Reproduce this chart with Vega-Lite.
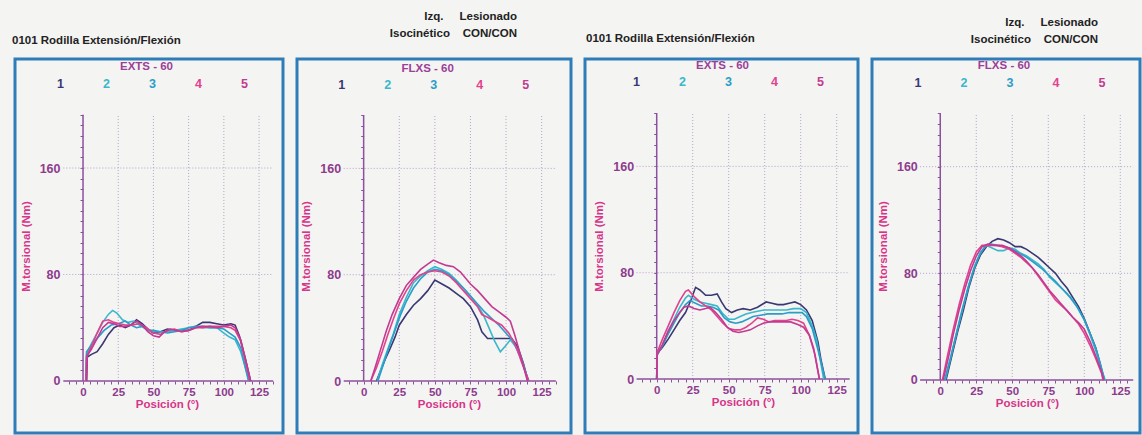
{
"$schema": "https://vega.github.io/schema/vega-lite/v6.json",
"background": "#f4f4f2",
"padding": {"left": 10, "top": 9, "right": 0, "bottom": 0},
"autosize": {"type": "pad"},
"bounds": "flush",
"spacing": 14,
"resolve": {"scale": {"x": "independent", "y": "independent", "color": "shared"}, "legend": {"color": "independent"}},
"config": {
 "view": {"stroke": "#2f7db8", "strokeWidth": 3},
 "axis": {"domain": false, "grid": false, "tickColor": "#8c509e", "tickWidth": 1, "labelFont": "Liberation Sans", "labelFontWeight": "bold", "labelColor": "#8e3b8e", "titleFont": "Liberation Sans", "titleFontSize": 11.5, "titleFontWeight": "bold", "titleColor": "#d6358a", "labelOverlap": false, "labelFlush": false, "labelBound": false},
 "axisX": {"labelFontSize": 11.5},
 "axisY": {"labelFontSize": 12.5},
 "legend": {"direction": "horizontal", "columns": 5, "columnPadding": 26, "symbolType": "circle", "symbolSize": 0, "symbolOpacity": 0, "symbolStrokeWidth": 0, "labelOffset": 0, "labelFont": "Liberation Sans", "labelFontSize": 12.5, "labelFontWeight": "bold", "titleFont": "Liberation Sans", "titleFontSize": 11.5, "titleFontWeight": "bold", "titleColor": "#9b3f98", "titleOrient": "top", "titleAnchor": "middle", "titlePadding": 5, "padding": 0},
 "title": {"font": "Liberation Sans", "fontSize": 11.5, "fontWeight": "bold", "color": "#222222", "lineHeight": 17, "frame": "bounds"}
},
"datasets": {
 "vgrid": [{"x": 25}, {"x": 50}, {"x": 75}, {"x": 100}, {"x": 125}],
 "hgrid": [{"v": 80}, {"v": 160}],
 "p1": [
  {"s":"1","x":2.5,"v":0},{"s":"1","x":3,"v":18},{"s":"1","x":6,"v":20},{"s":"1","x":10,"v":22},{"s":"1","x":14,"v":28},{"s":"1","x":18,"v":35},{"s":"1","x":22,"v":40},{"s":"1","x":26,"v":42},{"s":"1","x":30,"v":40},{"s":"1","x":34,"v":42},{"s":"1","x":38,"v":46},{"s":"1","x":42,"v":43},{"s":"1","x":46,"v":39},{"s":"1","x":50,"v":36},{"s":"1","x":55,"v":37},{"s":"1","x":60,"v":39},{"s":"1","x":65,"v":38},{"s":"1","x":70,"v":38},{"s":"1","x":75,"v":38},{"s":"1","x":80,"v":41},{"s":"1","x":85,"v":44},{"s":"1","x":90,"v":44},{"s":"1","x":95,"v":43},{"s":"1","x":100,"v":42},{"s":"1","x":105,"v":43},{"s":"1","x":108,"v":42},{"s":"1","x":111,"v":34},{"s":"1","x":115,"v":18},{"s":"1","x":119,"v":0},
  {"s":"2","x":2,"v":0},{"s":"2","x":2.5,"v":20},{"s":"2","x":6,"v":28},{"s":"2","x":10,"v":36},{"s":"2","x":14,"v":44},{"s":"2","x":18,"v":50},{"s":"2","x":21,"v":53},{"s":"2","x":24,"v":51},{"s":"2","x":28,"v":46},{"s":"2","x":32,"v":44},{"s":"2","x":36,"v":45},{"s":"2","x":40,"v":42},{"s":"2","x":45,"v":39},{"s":"2","x":50,"v":37},{"s":"2","x":55,"v":37},{"s":"2","x":60,"v":37},{"s":"2","x":65,"v":38},{"s":"2","x":70,"v":39},{"s":"2","x":75,"v":40},{"s":"2","x":80,"v":41},{"s":"2","x":85,"v":40},{"s":"2","x":90,"v":40},{"s":"2","x":95,"v":40},{"s":"2","x":100,"v":36},{"s":"2","x":104,"v":33},{"s":"2","x":108,"v":31},{"s":"2","x":112,"v":22},{"s":"2","x":118,"v":0},
  {"s":"3","x":2,"v":0},{"s":"3","x":2.5,"v":22},{"s":"3","x":6,"v":27},{"s":"3","x":10,"v":32},{"s":"3","x":15,"v":38},{"s":"3","x":20,"v":42},{"s":"3","x":25,"v":43},{"s":"3","x":30,"v":45},{"s":"3","x":34,"v":42},{"s":"3","x":38,"v":40},{"s":"3","x":42,"v":41},{"s":"3","x":46,"v":38},{"s":"3","x":50,"v":38},{"s":"3","x":55,"v":37},{"s":"3","x":60,"v":36},{"s":"3","x":65,"v":37},{"s":"3","x":70,"v":38},{"s":"3","x":75,"v":40},{"s":"3","x":80,"v":41},{"s":"3","x":85,"v":41},{"s":"3","x":90,"v":40},{"s":"3","x":95,"v":40},{"s":"3","x":100,"v":39},{"s":"3","x":104,"v":36},{"s":"3","x":108,"v":33},{"s":"3","x":112,"v":25},{"s":"3","x":117.5,"v":0},
  {"s":"4","x":2,"v":0},{"s":"4","x":2.5,"v":18},{"s":"4","x":6,"v":26},{"s":"4","x":10,"v":36},{"s":"4","x":14,"v":45},{"s":"4","x":18,"v":46},{"s":"4","x":22,"v":44},{"s":"4","x":26,"v":43},{"s":"4","x":30,"v":42},{"s":"4","x":35,"v":42},{"s":"4","x":40,"v":43},{"s":"4","x":45,"v":40},{"s":"4","x":50,"v":36},{"s":"4","x":55,"v":35},{"s":"4","x":60,"v":38},{"s":"4","x":65,"v":39},{"s":"4","x":70,"v":37},{"s":"4","x":75,"v":38},{"s":"4","x":80,"v":40},{"s":"4","x":85,"v":40},{"s":"4","x":90,"v":41},{"s":"4","x":95,"v":41},{"s":"4","x":100,"v":41},{"s":"4","x":105,"v":40},{"s":"4","x":108,"v":38},{"s":"4","x":112,"v":30},{"s":"4","x":118.5,"v":0},
  {"s":"5","x":2.5,"v":0},{"s":"5","x":3,"v":19},{"s":"5","x":6,"v":24},{"s":"5","x":10,"v":32},{"s":"5","x":14,"v":40},{"s":"5","x":18,"v":44},{"s":"5","x":22,"v":43},{"s":"5","x":26,"v":41},{"s":"5","x":30,"v":41},{"s":"5","x":34,"v":42},{"s":"5","x":38,"v":45},{"s":"5","x":42,"v":42},{"s":"5","x":46,"v":37},{"s":"5","x":50,"v":34},{"s":"5","x":54,"v":33},{"s":"5","x":58,"v":37},{"s":"5","x":62,"v":39},{"s":"5","x":66,"v":38},{"s":"5","x":70,"v":37},{"s":"5","x":75,"v":38},{"s":"5","x":80,"v":40},{"s":"5","x":85,"v":41},{"s":"5","x":90,"v":41},{"s":"5","x":95,"v":40},{"s":"5","x":100,"v":41},{"s":"5","x":105,"v":42},{"s":"5","x":108,"v":40},{"s":"5","x":112,"v":31},{"s":"5","x":119,"v":0}
 ],
 "p2": [
  {"s":"1","x":9,"v":0},{"s":"1","x":12,"v":8},{"s":"1","x":15,"v":16},{"s":"1","x":18,"v":23},{"s":"1","x":22,"v":33},{"s":"1","x":25,"v":42},{"s":"1","x":30,"v":50},{"s":"1","x":35,"v":57},{"s":"1","x":40,"v":62},{"s":"1","x":45,"v":68},{"s":"1","x":50,"v":76},{"s":"1","x":55,"v":73},{"s":"1","x":60,"v":70},{"s":"1","x":65,"v":66},{"s":"1","x":70,"v":62},{"s":"1","x":75,"v":56},{"s":"1","x":80,"v":46},{"s":"1","x":83,"v":37},{"s":"1","x":87,"v":32},{"s":"1","x":95,"v":32},{"s":"1","x":104,"v":32},{"s":"1","x":108,"v":26},{"s":"1","x":112,"v":14},{"s":"1","x":115.5,"v":0},
  {"s":"2","x":9.5,"v":0},{"s":"2","x":13,"v":12},{"s":"2","x":17,"v":24},{"s":"2","x":21,"v":36},{"s":"2","x":25,"v":50},{"s":"2","x":30,"v":63},{"s":"2","x":35,"v":74},{"s":"2","x":40,"v":79},{"s":"2","x":45,"v":83},{"s":"2","x":50,"v":86},{"s":"2","x":55,"v":84},{"s":"2","x":60,"v":81},{"s":"2","x":65,"v":76},{"s":"2","x":70,"v":70},{"s":"2","x":75,"v":64},{"s":"2","x":80,"v":57},{"s":"2","x":84,"v":50},{"s":"2","x":88,"v":40},{"s":"2","x":92,"v":30},{"s":"2","x":96,"v":22},{"s":"2","x":100,"v":27},{"s":"2","x":103,"v":31},{"s":"2","x":106,"v":27},{"s":"2","x":110,"v":20},{"s":"2","x":115.5,"v":0},
  {"s":"3","x":10,"v":0},{"s":"3","x":14,"v":13},{"s":"3","x":18,"v":26},{"s":"3","x":22,"v":38},{"s":"3","x":26,"v":50},{"s":"3","x":30,"v":60},{"s":"3","x":35,"v":70},{"s":"3","x":40,"v":77},{"s":"3","x":45,"v":82},{"s":"3","x":50,"v":84},{"s":"3","x":55,"v":83},{"s":"3","x":60,"v":80},{"s":"3","x":65,"v":75},{"s":"3","x":70,"v":70},{"s":"3","x":75,"v":64},{"s":"3","x":80,"v":58},{"s":"3","x":85,"v":52},{"s":"3","x":90,"v":47},{"s":"3","x":95,"v":42},{"s":"3","x":100,"v":36},{"s":"3","x":105,"v":30},{"s":"3","x":110,"v":18},{"s":"3","x":116,"v":0},
  {"s":"4","x":5,"v":0},{"s":"4","x":9,"v":10},{"s":"4","x":13,"v":22},{"s":"4","x":17,"v":35},{"s":"4","x":21,"v":47},{"s":"4","x":25,"v":58},{"s":"4","x":30,"v":68},{"s":"4","x":35,"v":76},{"s":"4","x":40,"v":80},{"s":"4","x":45,"v":82},{"s":"4","x":50,"v":83},{"s":"4","x":55,"v":82},{"s":"4","x":60,"v":79},{"s":"4","x":65,"v":74},{"s":"4","x":70,"v":68},{"s":"4","x":75,"v":62},{"s":"4","x":80,"v":56},{"s":"4","x":83,"v":50},{"s":"4","x":87,"v":48},{"s":"4","x":92,"v":45},{"s":"4","x":97,"v":42},{"s":"4","x":102,"v":36},{"s":"4","x":107,"v":26},{"s":"4","x":111,"v":14},{"s":"4","x":116,"v":0},
  {"s":"5","x":5,"v":0},{"s":"5","x":8,"v":10},{"s":"5","x":12,"v":24},{"s":"5","x":16,"v":38},{"s":"5","x":20,"v":50},{"s":"5","x":25,"v":62},{"s":"5","x":30,"v":72},{"s":"5","x":35,"v":78},{"s":"5","x":40,"v":84},{"s":"5","x":45,"v":88},{"s":"5","x":49,"v":91},{"s":"5","x":53,"v":89},{"s":"5","x":58,"v":87},{"s":"5","x":63,"v":86},{"s":"5","x":68,"v":82},{"s":"5","x":75,"v":73},{"s":"5","x":80,"v":68},{"s":"5","x":85,"v":62},{"s":"5","x":90,"v":56},{"s":"5","x":95,"v":52},{"s":"5","x":100,"v":48},{"s":"5","x":103,"v":45},{"s":"5","x":106,"v":35},{"s":"5","x":110,"v":20},{"s":"5","x":115,"v":0}
 ],
 "p3": [
  {"s":"1","x":0,"v":0},{"s":"1","x":0.3,"v":19},{"s":"1","x":4,"v":24},{"s":"1","x":8,"v":30},{"s":"1","x":12,"v":37},{"s":"1","x":16,"v":44},{"s":"1","x":20,"v":50},{"s":"1","x":24,"v":60},{"s":"1","x":27,"v":69},{"s":"1","x":30,"v":67},{"s":"1","x":34,"v":63},{"s":"1","x":38,"v":63},{"s":"1","x":42,"v":64},{"s":"1","x":45,"v":58},{"s":"1","x":48,"v":53},{"s":"1","x":52,"v":50},{"s":"1","x":56,"v":52},{"s":"1","x":60,"v":53},{"s":"1","x":65,"v":52},{"s":"1","x":70,"v":54},{"s":"1","x":76,"v":58},{"s":"1","x":80,"v":57},{"s":"1","x":84,"v":56},{"s":"1","x":88,"v":56},{"s":"1","x":92,"v":57},{"s":"1","x":96,"v":58},{"s":"1","x":100,"v":56},{"s":"1","x":104,"v":52},{"s":"1","x":108,"v":44},{"s":"1","x":112,"v":28},{"s":"1","x":114,"v":15},{"s":"1","x":117,"v":0},
  {"s":"2","x":0,"v":0},{"s":"2","x":0.3,"v":18},{"s":"2","x":4,"v":26},{"s":"2","x":8,"v":36},{"s":"2","x":12,"v":45},{"s":"2","x":16,"v":54},{"s":"2","x":20,"v":61},{"s":"2","x":22,"v":63},{"s":"2","x":26,"v":60},{"s":"2","x":30,"v":58},{"s":"2","x":34,"v":57},{"s":"2","x":38,"v":56},{"s":"2","x":42,"v":55},{"s":"2","x":46,"v":49},{"s":"2","x":50,"v":45},{"s":"2","x":54,"v":45},{"s":"2","x":58,"v":47},{"s":"2","x":62,"v":49},{"s":"2","x":66,"v":50},{"s":"2","x":70,"v":51},{"s":"2","x":75,"v":52},{"s":"2","x":80,"v":52},{"s":"2","x":85,"v":52},{"s":"2","x":90,"v":52},{"s":"2","x":95,"v":53},{"s":"2","x":100,"v":53},{"s":"2","x":104,"v":50},{"s":"2","x":108,"v":40},{"s":"2","x":111,"v":30},{"s":"2","x":116,"v":0},
  {"s":"3","x":0,"v":0},{"s":"3","x":0.3,"v":19},{"s":"3","x":4,"v":25},{"s":"3","x":8,"v":34},{"s":"3","x":12,"v":42},{"s":"3","x":16,"v":50},{"s":"3","x":20,"v":56},{"s":"3","x":23,"v":59},{"s":"3","x":27,"v":57},{"s":"3","x":31,"v":55},{"s":"3","x":35,"v":55},{"s":"3","x":39,"v":54},{"s":"3","x":43,"v":52},{"s":"3","x":47,"v":46},{"s":"3","x":51,"v":43},{"s":"3","x":55,"v":42},{"s":"3","x":59,"v":43},{"s":"3","x":63,"v":45},{"s":"3","x":67,"v":47},{"s":"3","x":72,"v":48},{"s":"3","x":77,"v":49},{"s":"3","x":82,"v":49},{"s":"3","x":87,"v":49},{"s":"3","x":92,"v":50},{"s":"3","x":97,"v":50},{"s":"3","x":101,"v":50},{"s":"3","x":104,"v":47},{"s":"3","x":108,"v":38},{"s":"3","x":112,"v":22},{"s":"3","x":117,"v":0},
  {"s":"4","x":0,"v":0},{"s":"4","x":0.3,"v":20},{"s":"4","x":4,"v":30},{"s":"4","x":8,"v":40},{"s":"4","x":12,"v":50},{"s":"4","x":16,"v":59},{"s":"4","x":20,"v":66},{"s":"4","x":22,"v":67},{"s":"4","x":26,"v":62},{"s":"4","x":30,"v":58},{"s":"4","x":34,"v":55},{"s":"4","x":38,"v":52},{"s":"4","x":42,"v":47},{"s":"4","x":46,"v":42},{"s":"4","x":50,"v":38},{"s":"4","x":54,"v":37},{"s":"4","x":58,"v":37},{"s":"4","x":62,"v":39},{"s":"4","x":66,"v":42},{"s":"4","x":70,"v":46},{"s":"4","x":74,"v":45},{"s":"4","x":78,"v":43},{"s":"4","x":82,"v":44},{"s":"4","x":86,"v":44},{"s":"4","x":90,"v":44},{"s":"4","x":94,"v":45},{"s":"4","x":98,"v":44},{"s":"4","x":102,"v":42},{"s":"4","x":106,"v":33},{"s":"4","x":110,"v":18},{"s":"4","x":113,"v":0},
  {"s":"5","x":0,"v":0},{"s":"5","x":0.3,"v":18},{"s":"5","x":4,"v":26},{"s":"5","x":8,"v":36},{"s":"5","x":12,"v":44},{"s":"5","x":16,"v":50},{"s":"5","x":19,"v":54},{"s":"5","x":22,"v":55},{"s":"5","x":26,"v":53},{"s":"5","x":30,"v":52},{"s":"5","x":34,"v":53},{"s":"5","x":37,"v":54},{"s":"5","x":41,"v":50},{"s":"5","x":45,"v":45},{"s":"5","x":49,"v":39},{"s":"5","x":53,"v":36},{"s":"5","x":57,"v":35},{"s":"5","x":61,"v":36},{"s":"5","x":65,"v":37},{"s":"5","x":70,"v":40},{"s":"5","x":74,"v":42},{"s":"5","x":78,"v":43},{"s":"5","x":83,"v":43},{"s":"5","x":88,"v":43},{"s":"5","x":93,"v":43},{"s":"5","x":98,"v":41},{"s":"5","x":102,"v":39},{"s":"5","x":106,"v":33},{"s":"5","x":109,"v":23},{"s":"5","x":113,"v":0}
 ],
 "p4": [
  {"s":"1","x":4,"v":0},{"s":"1","x":8,"v":18},{"s":"1","x":12,"v":36},{"s":"1","x":16,"v":52},{"s":"1","x":20,"v":70},{"s":"1","x":24,"v":84},{"s":"1","x":28,"v":94},{"s":"1","x":32,"v":100},{"s":"1","x":36,"v":104},{"s":"1","x":40,"v":106},{"s":"1","x":44,"v":105},{"s":"1","x":48,"v":103},{"s":"1","x":52,"v":100},{"s":"1","x":56,"v":100},{"s":"1","x":60,"v":98},{"s":"1","x":64,"v":95},{"s":"1","x":68,"v":92},{"s":"1","x":72,"v":88},{"s":"1","x":76,"v":84},{"s":"1","x":80,"v":80},{"s":"1","x":84,"v":74},{"s":"1","x":88,"v":69},{"s":"1","x":92,"v":62},{"s":"1","x":96,"v":55},{"s":"1","x":100,"v":46},{"s":"1","x":104,"v":35},{"s":"1","x":108,"v":24},{"s":"1","x":111,"v":12},{"s":"1","x":114,"v":0},
  {"s":"2","x":3.5,"v":0},{"s":"2","x":8,"v":20},{"s":"2","x":12,"v":38},{"s":"2","x":16,"v":55},{"s":"2","x":20,"v":72},{"s":"2","x":24,"v":86},{"s":"2","x":28,"v":96},{"s":"2","x":32,"v":101},{"s":"2","x":36,"v":99},{"s":"2","x":40,"v":97},{"s":"2","x":44,"v":97},{"s":"2","x":48,"v":99},{"s":"2","x":52,"v":98},{"s":"2","x":56,"v":95},{"s":"2","x":60,"v":93},{"s":"2","x":64,"v":90},{"s":"2","x":68,"v":87},{"s":"2","x":72,"v":83},{"s":"2","x":76,"v":77},{"s":"2","x":80,"v":73},{"s":"2","x":84,"v":69},{"s":"2","x":88,"v":65},{"s":"2","x":92,"v":60},{"s":"2","x":96,"v":53},{"s":"2","x":100,"v":45},{"s":"2","x":104,"v":34},{"s":"2","x":108,"v":22},{"s":"2","x":111,"v":11},{"s":"2","x":114.5,"v":0},
  {"s":"3","x":3,"v":0},{"s":"3","x":7,"v":16},{"s":"3","x":11,"v":34},{"s":"3","x":15,"v":52},{"s":"3","x":19,"v":68},{"s":"3","x":23,"v":82},{"s":"3","x":27,"v":93},{"s":"3","x":31,"v":100},{"s":"3","x":35,"v":102},{"s":"3","x":40,"v":101},{"s":"3","x":45,"v":100},{"s":"3","x":50,"v":98},{"s":"3","x":55,"v":95},{"s":"3","x":60,"v":92},{"s":"3","x":65,"v":88},{"s":"3","x":70,"v":84},{"s":"3","x":75,"v":79},{"s":"3","x":80,"v":74},{"s":"3","x":85,"v":68},{"s":"3","x":90,"v":62},{"s":"3","x":95,"v":55},{"s":"3","x":100,"v":45},{"s":"3","x":104,"v":35},{"s":"3","x":108,"v":24},{"s":"3","x":111,"v":13},{"s":"3","x":114,"v":0},
  {"s":"4","x":1.5,"v":0},{"s":"4","x":5,"v":18},{"s":"4","x":9,"v":38},{"s":"4","x":13,"v":56},{"s":"4","x":17,"v":72},{"s":"4","x":21,"v":86},{"s":"4","x":25,"v":96},{"s":"4","x":29,"v":101},{"s":"4","x":33,"v":101},{"s":"4","x":38,"v":101},{"s":"4","x":43,"v":100},{"s":"4","x":48,"v":98},{"s":"4","x":52,"v":95},{"s":"4","x":56,"v":92},{"s":"4","x":60,"v":88},{"s":"4","x":64,"v":84},{"s":"4","x":68,"v":78},{"s":"4","x":72,"v":72},{"s":"4","x":76,"v":66},{"s":"4","x":80,"v":60},{"s":"4","x":84,"v":56},{"s":"4","x":88,"v":52},{"s":"4","x":92,"v":47},{"s":"4","x":96,"v":42},{"s":"4","x":100,"v":35},{"s":"4","x":104,"v":26},{"s":"4","x":108,"v":16},{"s":"4","x":112,"v":5},{"s":"4","x":113,"v":0},
  {"s":"5","x":2,"v":0},{"s":"5","x":5.5,"v":16},{"s":"5","x":9,"v":34},{"s":"5","x":13,"v":52},{"s":"5","x":17,"v":68},{"s":"5","x":21,"v":82},{"s":"5","x":25,"v":93},{"s":"5","x":29,"v":100},{"s":"5","x":33,"v":102},{"s":"5","x":38,"v":101},{"s":"5","x":43,"v":101},{"s":"5","x":48,"v":99},{"s":"5","x":52,"v":96},{"s":"5","x":56,"v":93},{"s":"5","x":60,"v":89},{"s":"5","x":64,"v":84},{"s":"5","x":68,"v":79},{"s":"5","x":72,"v":73},{"s":"5","x":76,"v":67},{"s":"5","x":80,"v":62},{"s":"5","x":84,"v":57},{"s":"5","x":88,"v":52},{"s":"5","x":92,"v":47},{"s":"5","x":96,"v":43},{"s":"5","x":100,"v":38},{"s":"5","x":104,"v":29},{"s":"5","x":108,"v":18},{"s":"5","x":112,"v":6},{"s":"5","x":113.5,"v":0}
 ]
},
"hconcat": [
 {
  "width": 268, "height": 374,
  "title": {"text": "0101 Rodilla Extensión/Flexión", "anchor": "start", "dx": -3, "offset": 13},
  "resolve": {"axis": {"x": "independent", "y": "independent"}},
  "layer": [
   {"data": {"name": "vgrid"}, "mark": {"type": "rule", "stroke": "#b6a2c6", "strokeDash": [1, 2], "strokeWidth": 1},
    "encoding": {"x": {"field": "x", "type": "quantitative", "scale": {"domain": [-48.3, 142.0], "nice": false, "zero": false},
      "axis": {"orient": "bottom", "offset": -52, "labels": false, "title": null, "ticks": true, "tickSize": 3, "values": [-10,-5,0,5,10,15,20,25,30,35,40,45,50,55,60,65,70,75,80,85,90,95,100,105,110,115,120,125,130,135]}},
     "y": {"datum": 0, "type": "quantitative", "scale": {"domain": [-39.1, 241.9], "nice": false, "zero": false}, "axis": null}, "y2": {"datum": 200}}},
   {"data": {"name": "hgrid"}, "mark": {"type": "rule", "stroke": "#b6a2c6", "strokeDash": [1, 2], "strokeWidth": 1},
    "encoding": {"y": {"field": "v", "type": "quantitative", "scale": {"domain": [-39.1, 241.9], "nice": false, "zero": false},
      "axis": {"orient": "left", "offset": -68, "labels": false, "title": null, "ticks": true, "tickSize": 3, "values": [8,16,24,32,40,48,56,64,72,80,88,96,104,112,120,128,136,144,152,160,168,176,184,192,200]}},
     "x": {"datum": -14, "type": "quantitative", "scale": {"domain": [-48.3, 142.0], "nice": false, "zero": false}, "axis": null}, "x2": {"datum": 135}}},
   {"data": {"values": [{}]}, "mark": {"type": "rule", "stroke": "#8c509e", "strokeWidth": 1.5},
    "encoding": {"x": {"datum": -14, "type": "quantitative", "scale": {"domain": [-48.3, 142.0], "nice": false, "zero": false}, "axis": null}, "x2": {"datum": 135},
     "y": {"datum": 0, "type": "quantitative", "scale": {"domain": [-39.1, 241.9], "nice": false, "zero": false}, "axis": null}}},
   {"data": {"values": [{}]}, "mark": {"type": "rule", "stroke": "#8c509e", "strokeWidth": 1.5},
    "encoding": {"x": {"datum": 0, "type": "quantitative", "scale": {"domain": [-48.3, 142.0], "nice": false, "zero": false}, "axis": null},
     "y": {"datum": 0, "type": "quantitative", "scale": {"domain": [-39.1, 241.9], "nice": false, "zero": false}, "axis": null}, "y2": {"datum": 200}}},
   {"data": {"name": "p1"}, "mark": {"type": "line", "strokeWidth": 1.6},
    "encoding": {
     "x": {"field": "x", "type": "quantitative", "scale": {"domain": [-48.3, 142.0], "nice": false, "zero": false},
      "axis": {"orient": "bottom", "title": "Posición (°)", "offset": -52, "titleX": 152, "ticks": false, "tickSize": 0, "labelPadding": 5, "titlePadding": 1, "values": [0,25,50,75,100,125]}},
     "y": {"field": "v", "type": "quantitative", "scale": {"domain": [-39.1, 241.9], "nice": false, "zero": false},
      "axis": {"orient": "left", "title": "M.torsional (Nm)", "offset": -68, "ticks": false, "tickSize": 0, "labelPadding": 23, "titlePadding": 8, "values": [0,80,160]}},
     "color": {"field": "s", "type": "nominal", "scale": {"domain": ["1","2","3","4","5"], "range": ["#3a3872","#3ab7cc","#2b9dc8","#e2418e","#c23a92"]},
      "legend": {"title": "\u00a0\u00a0\u00a0\u00a0EXTS - 60", "orient": "none", "legendX": 29.5, "legendY": 2, "labelColor": {"expr": "datum.value == '1' ? '#3a3872' : datum.value == '2' ? '#3ab7cc' : datum.value == '3' ? '#2b9dc8' : datum.value == '4' ? '#e2418e' : '#c23a92'"}}}
    }}
  ]
 },
 {
  "width": 274, "height": 374,
  "title": {"text": ["Izq.\u00a0\u00a0\u00a0\u00a0\u00a0Lesionado", "Isocinético\u00a0\u00a0\u00a0\u00a0CON/CON"], "anchor": "end", "dx": -54, "offset": 20},
  "resolve": {"axis": {"x": "independent", "y": "independent"}},
  "layer": [
   {"data": {"name": "vgrid"}, "mark": {"type": "rule", "stroke": "#b6a2c6", "strokeDash": [1, 2], "strokeWidth": 1},
    "encoding": {"x": {"field": "x", "type": "quantitative", "scale": {"domain": [-46.8, 145.6], "nice": false, "zero": false},
      "axis": {"orient": "bottom", "offset": -52, "labels": false, "title": null, "ticks": true, "tickSize": 3, "values": [-10,-5,0,5,10,15,20,25,30,35,40,45,50,55,60,65,70,75,80,85,90,95,100,105,110,115,120,125,130,135]}},
     "y": {"datum": 0, "type": "quantitative", "scale": {"domain": [-39.1, 242.3], "nice": false, "zero": false}, "axis": null}, "y2": {"datum": 200}}},
   {"data": {"name": "hgrid"}, "mark": {"type": "rule", "stroke": "#b6a2c6", "strokeDash": [1, 2], "strokeWidth": 1},
    "encoding": {"y": {"field": "v", "type": "quantitative", "scale": {"domain": [-39.1, 242.3], "nice": false, "zero": false},
      "axis": {"orient": "left", "offset": -66.7, "labels": false, "title": null, "ticks": true, "tickSize": 3, "values": [8,16,24,32,40,48,56,64,72,80,88,96,104,112,120,128,136,144,152,160,168,176,184,192,200]}},
     "x": {"datum": -14, "type": "quantitative", "scale": {"domain": [-46.8, 145.6], "nice": false, "zero": false}, "axis": null}, "x2": {"datum": 135}}},
   {"data": {"values": [{}]}, "mark": {"type": "rule", "stroke": "#8c509e", "strokeWidth": 1.5},
    "encoding": {"x": {"datum": -14, "type": "quantitative", "scale": {"domain": [-46.8, 145.6], "nice": false, "zero": false}, "axis": null}, "x2": {"datum": 135},
     "y": {"datum": 0, "type": "quantitative", "scale": {"domain": [-39.1, 242.3], "nice": false, "zero": false}, "axis": null}}},
   {"data": {"values": [{}]}, "mark": {"type": "rule", "stroke": "#8c509e", "strokeWidth": 1.5},
    "encoding": {"x": {"datum": 0, "type": "quantitative", "scale": {"domain": [-46.8, 145.6], "nice": false, "zero": false}, "axis": null},
     "y": {"datum": 0, "type": "quantitative", "scale": {"domain": [-39.1, 242.3], "nice": false, "zero": false}, "axis": null}, "y2": {"datum": 200}}},
   {"data": {"name": "p2"}, "mark": {"type": "line", "strokeWidth": 1.6},
    "encoding": {
     "x": {"field": "x", "type": "quantitative", "scale": {"domain": [-46.8, 145.6], "nice": false, "zero": false},
      "axis": {"orient": "bottom", "title": "Posición (°)", "offset": -52, "titleX": 152, "ticks": false, "tickSize": 0, "labelPadding": 5, "titlePadding": 1, "values": [0,25,50,75,100,125]}},
     "y": {"field": "v", "type": "quantitative", "scale": {"domain": [-39.1, 242.3], "nice": false, "zero": false},
      "axis": {"orient": "left", "title": "M.torsional (Nm)", "offset": -66.7, "ticks": false, "tickSize": 0, "labelPadding": 23, "titlePadding": 8, "values": [0,80,160]}},
     "color": {"field": "s", "type": "nominal", "scale": {"domain": ["1","2","3","4","5"], "range": ["#3a3872","#3ab7cc","#2b9dc8","#e2418e","#c23a92"]},
      "legend": {"title": "\u00a0\u00a0\u00a0\u00a0FLXS - 60", "orient": "none", "legendX": 28.7, "legendY": 3.5, "labelColor": {"expr": "datum.value == '1' ? '#3a3872' : datum.value == '2' ? '#3ab7cc' : datum.value == '3' ? '#2b9dc8' : datum.value == '4' ? '#e2418e' : '#c23a92'"}}}
    }}
  ]
 },
 {
  "width": 273, "height": 374,
  "title": {"text": "0101 Rodilla Extensión/Flexión", "anchor": "start", "dx": 1, "offset": 15},
  "resolve": {"axis": {"x": "independent", "y": "independent"}},
  "layer": [
   {"data": {"name": "vgrid"}, "mark": {"type": "rule", "stroke": "#b6a2c6", "strokeDash": [1, 2], "strokeWidth": 1},
    "encoding": {"x": {"field": "x", "type": "quantitative", "scale": {"domain": [-49.8, 139.8], "nice": false, "zero": false},
      "axis": {"orient": "bottom", "offset": -54, "labels": false, "title": null, "ticks": true, "tickSize": 3, "values": [-10,-5,0,5,10,15,20,25,30,35,40,45,50,55,60,65,70,75,80,85,90,95,100,105,110,115,120,125,130]}},
     "y": {"datum": 0, "type": "quantitative", "scale": {"domain": [-40.6, 240.8], "nice": false, "zero": false}, "axis": null}, "y2": {"datum": 200}}},
   {"data": {"name": "hgrid"}, "mark": {"type": "rule", "stroke": "#b6a2c6", "strokeDash": [1, 2], "strokeWidth": 1},
    "encoding": {"y": {"field": "v", "type": "quantitative", "scale": {"domain": [-40.6, 240.8], "nice": false, "zero": false},
      "axis": {"orient": "left", "offset": -71.7, "labels": false, "title": null, "ticks": true, "tickSize": 3, "values": [8,16,24,32,40,48,56,64,72,80,88,96,104,112,120,128,136,144,152,160,168,176,184,192,200]}},
     "x": {"datum": -14, "type": "quantitative", "scale": {"domain": [-49.8, 139.8], "nice": false, "zero": false}, "axis": null}, "x2": {"datum": 134}}},
   {"data": {"values": [{}]}, "mark": {"type": "rule", "stroke": "#8c509e", "strokeWidth": 1.5},
    "encoding": {"x": {"datum": -14, "type": "quantitative", "scale": {"domain": [-49.8, 139.8], "nice": false, "zero": false}, "axis": null}, "x2": {"datum": 134},
     "y": {"datum": 0, "type": "quantitative", "scale": {"domain": [-40.6, 240.8], "nice": false, "zero": false}, "axis": null}}},
   {"data": {"values": [{}]}, "mark": {"type": "rule", "stroke": "#8c509e", "strokeWidth": 1.5},
    "encoding": {"x": {"datum": 0, "type": "quantitative", "scale": {"domain": [-49.8, 139.8], "nice": false, "zero": false}, "axis": null},
     "y": {"datum": 0, "type": "quantitative", "scale": {"domain": [-40.6, 240.8], "nice": false, "zero": false}, "axis": null}, "y2": {"datum": 200}}},
   {"data": {"name": "p3"}, "mark": {"type": "line", "strokeWidth": 1.6},
    "encoding": {
     "x": {"field": "x", "type": "quantitative", "scale": {"domain": [-49.8, 139.8], "nice": false, "zero": false},
      "axis": {"orient": "bottom", "title": "Posición (°)", "offset": -54, "titleX": 158, "ticks": false, "tickSize": 0, "labelPadding": 5, "titlePadding": 1, "values": [0,25,50,75,100,125]}},
     "y": {"field": "v", "type": "quantitative", "scale": {"domain": [-40.6, 240.8], "nice": false, "zero": false},
      "axis": {"orient": "left", "title": "M.torsional (Nm)", "offset": -71.7, "ticks": false, "tickSize": 0, "labelPadding": 23, "titlePadding": 8, "values": [0,80,160]}},
     "color": {"field": "s", "type": "nominal", "scale": {"domain": ["1","2","3","4","5"], "range": ["#3a3872","#3ab7cc","#2b9dc8","#e2418e","#c23a92"]},
      "legend": {"title": "\u00a0\u00a0\u00a0\u00a0EXTS - 60", "orient": "none", "legendX": 35.5, "legendY": 0.5, "labelColor": {"expr": "datum.value == '1' ? '#3a3872' : datum.value == '2' ? '#3ab7cc' : datum.value == '3' ? '#2b9dc8' : datum.value == '4' ? '#e2418e' : '#c23a92'"}}}
    }}
  ]
 },
 {
  "width": 268, "height": 374,
  "title": {"text": ["Izq.\u00a0\u00a0\u00a0\u00a0\u00a0Lesionado", "Isocinético\u00a0\u00a0\u00a0\u00a0CON/CON"], "anchor": "end", "dx": -42, "offset": 14},
  "resolve": {"axis": {"x": "independent", "y": "independent"}},
  "layer": [
   {"data": {"name": "vgrid"}, "mark": {"type": "rule", "stroke": "#b6a2c6", "strokeDash": [1, 2], "strokeWidth": 1},
    "encoding": {"x": {"field": "x", "type": "quantitative", "scale": {"domain": [-47.4, 138.7], "nice": false, "zero": false},
      "axis": {"orient": "bottom", "offset": -53, "labels": false, "title": null, "ticks": true, "tickSize": 3, "values": [-10,-5,0,5,10,15,20,25,30,35,40,45,50,55,60,65,70,75,80,85,90,95,100,105,110,115,120,125,130]}},
     "y": {"datum": 0, "type": "quantitative", "scale": {"domain": [-39.8, 240.8], "nice": false, "zero": false}, "axis": null}, "y2": {"datum": 200}}},
   {"data": {"name": "hgrid"}, "mark": {"type": "rule", "stroke": "#b6a2c6", "strokeDash": [1, 2], "strokeWidth": 1},
    "encoding": {"y": {"field": "v", "type": "quantitative", "scale": {"domain": [-39.8, 240.8], "nice": false, "zero": false},
      "axis": {"orient": "left", "offset": -68.3, "labels": false, "title": null, "ticks": true, "tickSize": 3, "values": [8,16,24,32,40,48,56,64,72,80,88,96,104,112,120,128,136,144,152,160,168,176,184,192,200]}},
     "x": {"datum": -14, "type": "quantitative", "scale": {"domain": [-47.4, 138.7], "nice": false, "zero": false}, "axis": null}, "x2": {"datum": 134}}},
   {"data": {"values": [{}]}, "mark": {"type": "rule", "stroke": "#8c509e", "strokeWidth": 1.5},
    "encoding": {"x": {"datum": -14, "type": "quantitative", "scale": {"domain": [-47.4, 138.7], "nice": false, "zero": false}, "axis": null}, "x2": {"datum": 134},
     "y": {"datum": 0, "type": "quantitative", "scale": {"domain": [-39.8, 240.8], "nice": false, "zero": false}, "axis": null}}},
   {"data": {"values": [{}]}, "mark": {"type": "rule", "stroke": "#8c509e", "strokeWidth": 1.5},
    "encoding": {"x": {"datum": 0, "type": "quantitative", "scale": {"domain": [-47.4, 138.7], "nice": false, "zero": false}, "axis": null},
     "y": {"datum": 0, "type": "quantitative", "scale": {"domain": [-39.8, 240.8], "nice": false, "zero": false}, "axis": null}, "y2": {"datum": 200}}},
   {"data": {"name": "p4"}, "mark": {"type": "line", "strokeWidth": 1.6},
    "encoding": {
     "x": {"field": "x", "type": "quantitative", "scale": {"domain": [-47.4, 138.7], "nice": false, "zero": false},
      "axis": {"orient": "bottom", "title": "Posición (°)", "offset": -53, "titleX": 155, "ticks": false, "tickSize": 0, "labelPadding": 5, "titlePadding": 1, "values": [0,25,50,75,100,125]}},
     "y": {"field": "v", "type": "quantitative", "scale": {"domain": [-39.8, 240.8], "nice": false, "zero": false},
      "axis": {"orient": "left", "title": "M.torsional (Nm)", "offset": -68.3, "ticks": false, "tickSize": 0, "labelPadding": 23, "titlePadding": 8, "values": [0,80,160]}},
     "color": {"field": "s", "type": "nominal", "scale": {"domain": ["1","2","3","4","5"], "range": ["#3a3872","#3ab7cc","#2b9dc8","#e2418e","#c23a92"]},
      "legend": {"title": "\u00a0\u00a0\u00a0\u00a0FLXS - 60", "orient": "none", "legendX": 30, "legendY": 1, "labelColor": {"expr": "datum.value == '1' ? '#3a3872' : datum.value == '2' ? '#3ab7cc' : datum.value == '3' ? '#2b9dc8' : datum.value == '4' ? '#e2418e' : '#c23a92'"}}}
    }}
  ]
 }
]
}
